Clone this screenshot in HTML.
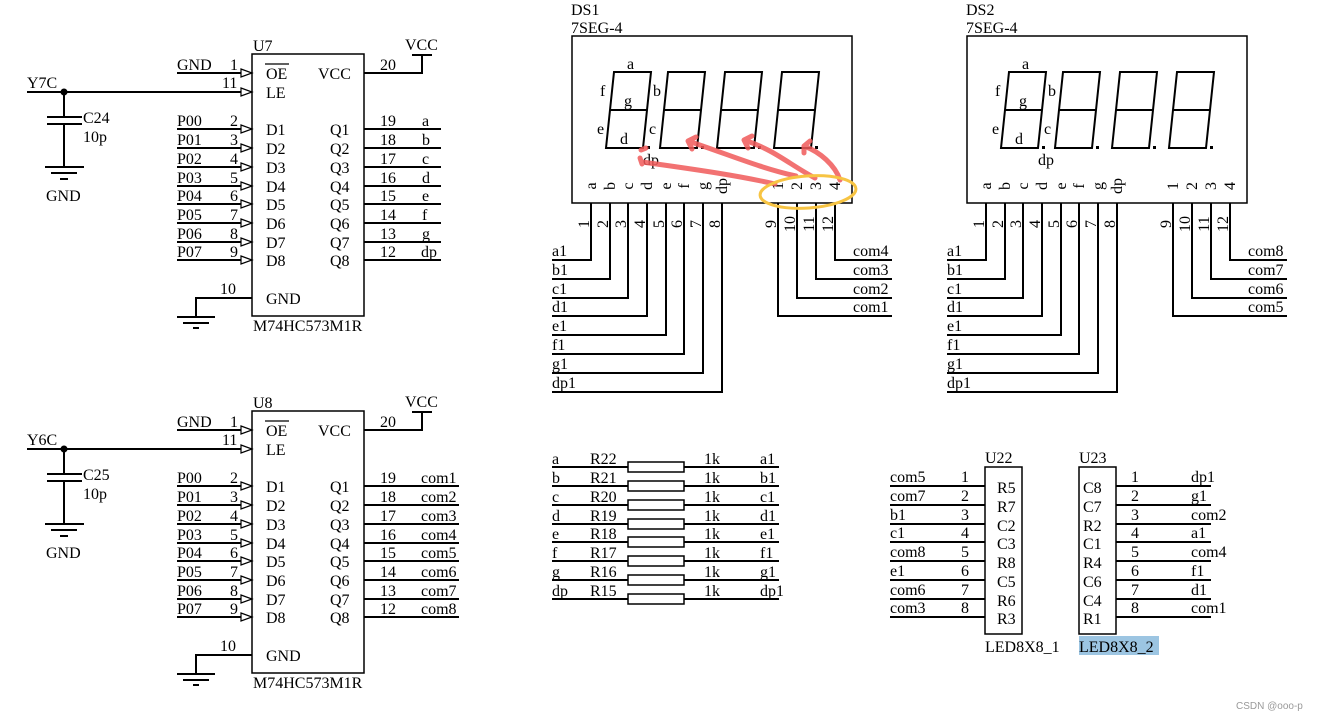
<!DOCTYPE html>
<html><head><meta charset="utf-8"><style>
html,body{margin:0;padding:0;background:#fff;}
svg{display:block;font-family:"Liberation Serif",serif;font-size:16px;}
</style></head><body>
<svg width="1318" height="719" viewBox="0 0 1318 719" xmlns="http://www.w3.org/2000/svg">
<g stroke="#000" stroke-width="2" fill="none">
<!-- U7 -->
<rect x="252" y="54" width="112" height="262" stroke-width="1.5"/>
<path d="M177 73H252M27 92H252M364 73H422V55M412 55H432"/>
<path d="M177 129H252M177 148H252M177 167H252M177 186H252M177 204H252M177 223H252M177 242H252M177 260H252"/>
<path d="M364 129H441M364 148H441M364 167H441M364 186H441M364 204H441M364 223H441M364 242H441M364 260H441"/>
<path d="M252 298H196V317M177 317H215M183 323H209M193 328H199"/>
<path d="M64 92V117M47 117H82M47 124H82M64 124V167M45 167H84M51 173H77M60 179H68"/>
<path d="M265 64H289" stroke-width="1.2"/>
<g stroke-width="1.2" fill="#fff">
<path d="M241 69L252 73L241 77Z"/><path d="M241 88L252 92L241 96Z"/>
<path d="M241 125L252 129L241 133Z"/><path d="M241 144L252 148L241 152Z"/><path d="M241 163L252 167L241 171Z"/><path d="M241 182L252 186L241 190Z"/><path d="M241 200L252 204L241 208Z"/><path d="M241 219L252 223L241 227Z"/><path d="M241 238L252 242L241 246Z"/><path d="M241 256L252 260L241 264Z"/>
</g>
<!-- U8 -->
<g transform="translate(0,357)">
<rect x="252" y="54" width="112" height="262" stroke-width="1.5"/>
<path d="M177 73H252M27 92H252M364 73H422V55M412 55H432"/>
<path d="M177 129H252M177 148H252M177 167H252M177 186H252M177 204H252M177 223H252M177 242H252M177 260H252"/>
<path d="M364 129H459M364 148H459M364 167H459M364 186H459M364 204H459M364 223H459M364 242H459M364 260H459"/>
<path d="M252 298H196V317M177 317H215M183 323H209M193 328H199"/>
<path d="M64 92V117M47 117H82M47 124H82M64 124V167M45 167H84M51 173H77M60 179H68"/>
<path d="M265 64H289" stroke-width="1.2"/>
<g stroke-width="1.2" fill="#fff">
<path d="M241 69L252 73L241 77Z"/><path d="M241 88L252 92L241 96Z"/>
<path d="M241 125L252 129L241 133Z"/><path d="M241 144L252 148L241 152Z"/><path d="M241 163L252 167L241 171Z"/><path d="M241 182L252 186L241 190Z"/><path d="M241 200L252 204L241 208Z"/><path d="M241 219L252 223L241 227Z"/><path d="M241 238L252 242L241 246Z"/><path d="M241 256L252 260L241 264Z"/>
</g>
</g>
<!-- DS1 / DS2 -->
<g id="ds">
<rect x="572" y="36" width="280" height="167" stroke-width="1.5"/>
<path d="M614 72H651L643 148H606ZM610 110H647"/>
<path d="M668 72H705L697 148H660ZM664 110H701"/>
<path d="M725 72H762L754 148H717ZM721 110H758"/>
<path d="M782 72H819L811 148H774ZM778 110H815"/>
<path d="M591 203V260H552M610 203V279H552M628 203V298H552M647 203V316H552M666 203V335H552M684 203V354H552M703 203V373H552M722 203V392H552"/>
<path d="M835 203V260H892M816 203V279H892M797 203V298H892M778 203V316H892"/>
</g>
<g transform="translate(395,0)">
<rect x="572" y="36" width="280" height="167" stroke-width="1.5"/>
<path d="M614 72H651L643 148H606ZM610 110H647"/>
<path d="M668 72H705L697 148H660ZM664 110H701"/>
<path d="M725 72H762L754 148H717ZM721 110H758"/>
<path d="M782 72H819L811 148H774ZM778 110H815"/>
<path d="M591 203V260H552M610 203V279H552M628 203V298H552M647 203V316H552M666 203V335H552M684 203V354H552M703 203V373H552M722 203V392H552"/>
<path d="M835 203V260H892M816 203V279H892M797 203V298H892M778 203V316H892"/>
</g>
<!-- resistors -->
<path d="M552 467H779M552 486H779M552 505H779M552 524H779M552 542H779M552 561H779M552 580H779M552 599H779"/>
<g fill="#fff" stroke-width="1.5">
<rect x="628" y="462" width="56" height="10"/><rect x="628" y="481" width="56" height="10"/><rect x="628" y="500" width="56" height="10"/><rect x="628" y="519" width="56" height="10"/><rect x="628" y="537" width="56" height="10"/><rect x="628" y="556" width="56" height="10"/><rect x="628" y="575" width="56" height="10"/><rect x="628" y="594" width="56" height="10"/>
</g>
<!-- U22/U23 -->
<rect x="985" y="467" width="37" height="167" stroke-width="1.5"/>
<rect x="1079" y="467" width="37" height="167" stroke-width="1.5"/>
<path d="M890 486H985M890 505H985M890 524H985M890 542H985M890 561H985M890 580H985M890 599H985M890 617H985"/>
<path d="M1116 486H1211M1116 505H1211M1116 524H1211M1116 542H1211M1116 561H1211M1116 580H1211M1116 599H1211M1116 617H1211"/>
</g>
<g fill="#000" stroke="none">
<circle cx="64" cy="92" r="3.5"/><circle cx="64" cy="449" r="3.5"/>
<rect x="647" y="146" width="3" height="3"/><rect x="701" y="146" width="3" height="3"/><rect x="758" y="146" width="3" height="3"/><rect x="815" y="146" width="3" height="3"/>
<rect x="1042" y="146" width="3" height="3"/><rect x="1096" y="146" width="3" height="3"/><rect x="1153" y="146" width="3" height="3"/><rect x="1210" y="146" width="3" height="3"/>
</g>
<rect x="1079" y="636" width="80" height="19" fill="#9cc5e2"/>

<g fill="#000">
<!-- U7 text -->
<text x="253" y="51">U7</text><text x="405" y="50">VCC</text>
<text x="27" y="88">Y7C</text><text x="83" y="123">C24</text><text x="83" y="142">10p</text><text x="46" y="201">GND</text>
<text x="177" y="70">GND</text><text x="230" y="70">1</text><text x="222" y="88">11</text>
<text x="266" y="79">OE</text><text x="266" y="98">LE</text><text x="318" y="79">VCC</text><text x="380" y="70">20</text>
<text x="177" y="126">P00</text><text x="177" y="145">P01</text><text x="177" y="164">P02</text><text x="177" y="183">P03</text><text x="177" y="201">P04</text><text x="177" y="220">P05</text><text x="177" y="239">P06</text><text x="177" y="257">P07</text>
<text x="230" y="126">2</text><text x="230" y="145">3</text><text x="230" y="164">4</text><text x="230" y="183">5</text><text x="230" y="201">6</text><text x="230" y="220">7</text><text x="230" y="239">8</text><text x="230" y="257">9</text>
<text x="266" y="135">D1</text><text x="266" y="154">D2</text><text x="266" y="173">D3</text><text x="266" y="192">D4</text><text x="266" y="210">D5</text><text x="266" y="229">D6</text><text x="266" y="248">D7</text><text x="266" y="266">D8</text>
<text x="330" y="135">Q1</text><text x="330" y="154">Q2</text><text x="330" y="173">Q3</text><text x="330" y="192">Q4</text><text x="330" y="210">Q5</text><text x="330" y="229">Q6</text><text x="330" y="248">Q7</text><text x="330" y="266">Q8</text>
<text x="380" y="126">19</text><text x="380" y="145">18</text><text x="380" y="164">17</text><text x="380" y="183">16</text><text x="380" y="201">15</text><text x="380" y="220">14</text><text x="380" y="239">13</text><text x="380" y="257">12</text>
<text x="422" y="126">a</text><text x="422" y="145">b</text><text x="422" y="164">c</text><text x="422" y="183">d</text><text x="422" y="201">e</text><text x="422" y="220">f</text><text x="422" y="239">g</text><text x="421" y="257">dp</text>
<text x="220" y="294">10</text><text x="266" y="304">GND</text><text x="253" y="331">M74HC573M1R</text>
<!-- U8 text -->
<text x="253" y="408">U8</text><text x="405" y="407">VCC</text>
<text x="27" y="445">Y6C</text><text x="83" y="480">C25</text><text x="83" y="499">10p</text><text x="46" y="558">GND</text>
<text x="177" y="427">GND</text><text x="230" y="427">1</text><text x="222" y="445">11</text>
<text x="266" y="436">OE</text><text x="266" y="455">LE</text><text x="318" y="436">VCC</text><text x="380" y="427">20</text>
<text x="177" y="483">P00</text><text x="177" y="502">P01</text><text x="177" y="521">P02</text><text x="177" y="540">P03</text><text x="177" y="558">P04</text><text x="177" y="577">P05</text><text x="177" y="596">P06</text><text x="177" y="614">P07</text>
<text x="230" y="483">2</text><text x="230" y="502">3</text><text x="230" y="521">4</text><text x="230" y="540">5</text><text x="230" y="558">6</text><text x="230" y="577">7</text><text x="230" y="596">8</text><text x="230" y="614">9</text>
<text x="266" y="492">D1</text><text x="266" y="511">D2</text><text x="266" y="530">D3</text><text x="266" y="549">D4</text><text x="266" y="567">D5</text><text x="266" y="586">D6</text><text x="266" y="605">D7</text><text x="266" y="623">D8</text>
<text x="330" y="492">Q1</text><text x="330" y="511">Q2</text><text x="330" y="530">Q3</text><text x="330" y="549">Q4</text><text x="330" y="567">Q5</text><text x="330" y="586">Q6</text><text x="330" y="605">Q7</text><text x="330" y="623">Q8</text>
<text x="380" y="483">19</text><text x="380" y="502">18</text><text x="380" y="521">17</text><text x="380" y="540">16</text><text x="380" y="558">15</text><text x="380" y="577">14</text><text x="380" y="596">13</text><text x="380" y="614">12</text>
<text x="421" y="483">com1</text><text x="421" y="502">com2</text><text x="421" y="521">com3</text><text x="421" y="540">com4</text><text x="421" y="558">com5</text><text x="421" y="577">com6</text><text x="421" y="596">com7</text><text x="421" y="614">com8</text>
<text x="220" y="651">10</text><text x="266" y="661">GND</text><text x="253" y="688">M74HC573M1R</text>

<!-- DS1 text -->
<text x="571" y="15">DS1</text><text x="571" y="33">7SEG-4</text>
<text x="627" y="69">a</text><text x="600" y="96">f</text><text x="653" y="96">b</text><text x="624" y="106">g</text><text x="597" y="134">e</text><text x="649" y="134">c</text><text x="620" y="144">d</text><text x="643" y="165">dp</text>
<g text-anchor="middle">
<text transform="translate(596,186) rotate(-90)">a</text><text transform="translate(615,186) rotate(-90)">b</text><text transform="translate(633,186) rotate(-90)">c</text><text transform="translate(652,186) rotate(-90)">d</text><text transform="translate(671,186) rotate(-90)">e</text><text transform="translate(689,186) rotate(-90)">f</text><text transform="translate(708,186) rotate(-90)">g</text><text transform="translate(727,186) rotate(-90)">dp</text>
<text transform="translate(783,186) rotate(-90)">1</text><text transform="translate(802,186) rotate(-90)">2</text><text transform="translate(821,186) rotate(-90)">3</text><text transform="translate(840,186) rotate(-90)">4</text>
<text transform="translate(589,224) rotate(-90)">1</text><text transform="translate(608,224) rotate(-90)">2</text><text transform="translate(626,224) rotate(-90)">3</text><text transform="translate(645,224) rotate(-90)">4</text><text transform="translate(664,224) rotate(-90)">5</text><text transform="translate(682,224) rotate(-90)">6</text><text transform="translate(701,224) rotate(-90)">7</text><text transform="translate(720,224) rotate(-90)">8</text>
<text transform="translate(776,224) rotate(-90)">9</text><text transform="translate(795,224) rotate(-90)">10</text><text transform="translate(814,224) rotate(-90)">11</text><text transform="translate(833,224) rotate(-90)">12</text>
</g>
<text x="552" y="256">a1</text><text x="552" y="275">b1</text><text x="552" y="294">c1</text><text x="552" y="312">d1</text><text x="552" y="331">e1</text><text x="552" y="350">f1</text><text x="552" y="369">g1</text><text x="552" y="388">dp1</text>
<text x="853" y="256">com4</text><text x="853" y="275">com3</text><text x="853" y="294">com2</text><text x="853" y="312">com1</text>
<!-- DS2 text -->
<text x="966" y="15">DS2</text><text x="966" y="33">7SEG-4</text>
<text x="1022" y="69">a</text><text x="995" y="96">f</text><text x="1048" y="96">b</text><text x="1019" y="106">g</text><text x="992" y="134">e</text><text x="1044" y="134">c</text><text x="1015" y="144">d</text><text x="1038" y="165">dp</text>
<g text-anchor="middle">
<text transform="translate(991,186) rotate(-90)">a</text><text transform="translate(1010,186) rotate(-90)">b</text><text transform="translate(1028,186) rotate(-90)">c</text><text transform="translate(1047,186) rotate(-90)">d</text><text transform="translate(1066,186) rotate(-90)">e</text><text transform="translate(1084,186) rotate(-90)">f</text><text transform="translate(1103,186) rotate(-90)">g</text><text transform="translate(1122,186) rotate(-90)">dp</text>
<text transform="translate(1178,186) rotate(-90)">1</text><text transform="translate(1197,186) rotate(-90)">2</text><text transform="translate(1216,186) rotate(-90)">3</text><text transform="translate(1235,186) rotate(-90)">4</text>
<text transform="translate(984,224) rotate(-90)">1</text><text transform="translate(1003,224) rotate(-90)">2</text><text transform="translate(1021,224) rotate(-90)">3</text><text transform="translate(1040,224) rotate(-90)">4</text><text transform="translate(1059,224) rotate(-90)">5</text><text transform="translate(1077,224) rotate(-90)">6</text><text transform="translate(1096,224) rotate(-90)">7</text><text transform="translate(1115,224) rotate(-90)">8</text>
<text transform="translate(1171,224) rotate(-90)">9</text><text transform="translate(1190,224) rotate(-90)">10</text><text transform="translate(1209,224) rotate(-90)">11</text><text transform="translate(1228,224) rotate(-90)">12</text>
</g>
<text x="947" y="256">a1</text><text x="947" y="275">b1</text><text x="947" y="294">c1</text><text x="947" y="312">d1</text><text x="947" y="331">e1</text><text x="947" y="350">f1</text><text x="947" y="369">g1</text><text x="947" y="388">dp1</text>
<text x="1248" y="256">com8</text><text x="1248" y="275">com7</text><text x="1248" y="294">com6</text><text x="1248" y="312">com5</text>

<!-- resistor text -->
<text x="552" y="464">a</text><text x="552" y="483">b</text><text x="552" y="502">c</text><text x="552" y="521">d</text><text x="552" y="539">e</text><text x="552" y="558">f</text><text x="552" y="577">g</text><text x="552" y="596">dp</text>
<text x="590" y="464">R22</text><text x="590" y="483">R21</text><text x="590" y="502">R20</text><text x="590" y="521">R19</text><text x="590" y="539">R18</text><text x="590" y="558">R17</text><text x="590" y="577">R16</text><text x="590" y="596">R15</text>
<text x="704" y="464">1k</text><text x="704" y="483">1k</text><text x="704" y="502">1k</text><text x="704" y="521">1k</text><text x="704" y="539">1k</text><text x="704" y="558">1k</text><text x="704" y="577">1k</text><text x="704" y="596">1k</text>
<text x="760" y="464">a1</text><text x="760" y="483">b1</text><text x="760" y="502">c1</text><text x="760" y="521">d1</text><text x="760" y="539">e1</text><text x="760" y="558">f1</text><text x="760" y="577">g1</text><text x="760" y="596">dp1</text>

<!-- U22 / U23 text -->
<text x="985" y="463">U22</text><text x="1079" y="463">U23</text>
<text x="890" y="482">com5</text><text x="890" y="501">com7</text><text x="890" y="520">b1</text><text x="890" y="538">c1</text><text x="890" y="557">com8</text><text x="890" y="576">e1</text><text x="890" y="595">com6</text><text x="890" y="613">com3</text>
<g text-anchor="middle">
<text x="965" y="482">1</text><text x="965" y="501">2</text><text x="965" y="520">3</text><text x="965" y="538">4</text><text x="965" y="557">5</text><text x="965" y="576">6</text><text x="965" y="595">7</text><text x="965" y="613">8</text>
<text x="1135" y="482">1</text><text x="1135" y="501">2</text><text x="1135" y="520">3</text><text x="1135" y="538">4</text><text x="1135" y="557">5</text><text x="1135" y="576">6</text><text x="1135" y="595">7</text><text x="1135" y="613">8</text>
</g>
<text x="997" y="493">R5</text><text x="997" y="512">R7</text><text x="997" y="531">C2</text><text x="997" y="549">C3</text><text x="997" y="568">R8</text><text x="997" y="587">C5</text><text x="997" y="606">R6</text><text x="997" y="624">R3</text>
<text x="1083" y="493">C8</text><text x="1083" y="512">C7</text><text x="1083" y="531">R2</text><text x="1083" y="549">C1</text><text x="1083" y="568">R4</text><text x="1083" y="587">C6</text><text x="1083" y="606">C4</text><text x="1083" y="624">R1</text>
<text x="1191" y="482">dp1</text><text x="1191" y="501">g1</text><text x="1191" y="520">com2</text><text x="1191" y="538">a1</text><text x="1191" y="557">com4</text><text x="1191" y="576">f1</text><text x="1191" y="595">d1</text><text x="1191" y="613">com1</text>
<text x="985" y="652">LED8X8_1</text><text x="1079" y="652">LED8X8_2</text>
<text x="1236" y="709" font-family="Liberation Sans, sans-serif" font-size="10" fill="#999">CSDN @ooo-p</text>
</g>

<!-- annotations -->
<g fill="none" stroke="#f05a5a" stroke-width="5" stroke-linecap="round" opacity="0.85">
<path d="M775 184C740 176 700 170 642 162"/>
<path d="M641 150L646 148M640 158L642 164"/>
<path d="M796 176C760 168 730 155 688 141M688 141L696 137M688 141L692 149"/>
<path d="M815 178C790 165 775 150 744 140M744 140L752 136M744 140L748 148"/>
<path d="M840 180C835 165 820 152 804 146M804 146L810 141M804 146L804 153"/>
</g>
<ellipse cx="808" cy="192" rx="48" ry="16" fill="none" stroke="#f7c443" stroke-width="3" transform="rotate(-4 808 192)"/>
</svg>
</body></html>
